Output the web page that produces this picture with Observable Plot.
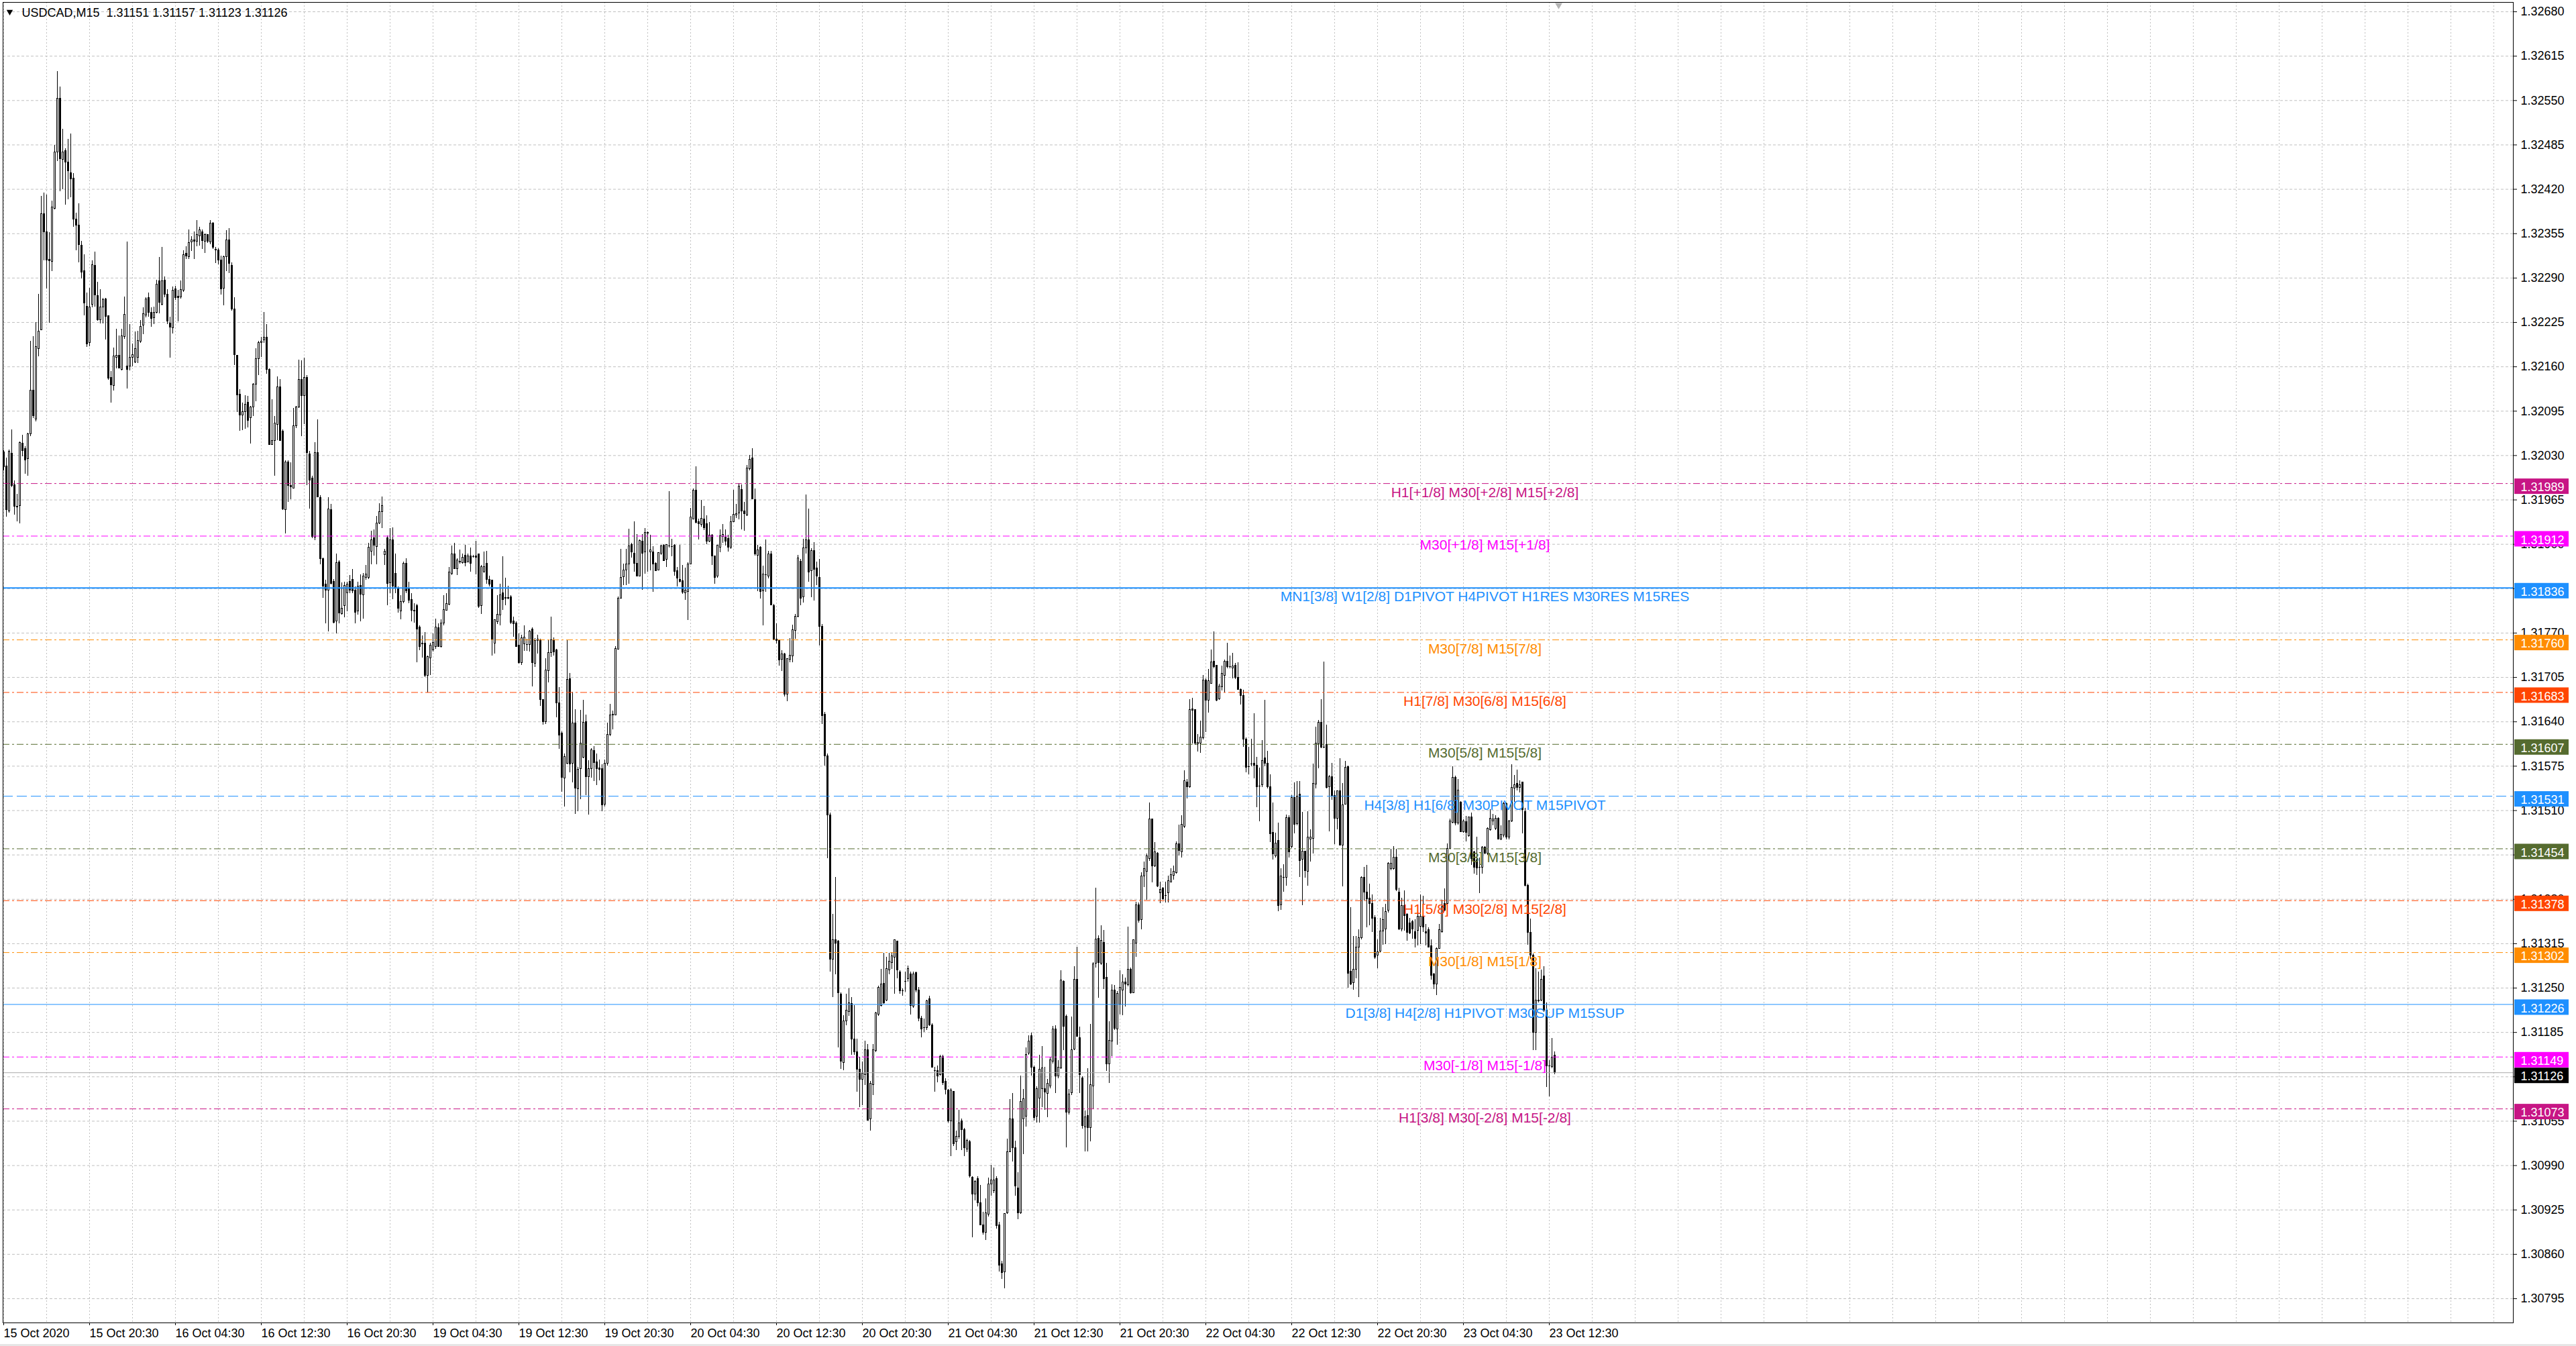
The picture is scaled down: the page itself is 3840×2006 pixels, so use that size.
<!DOCTYPE html>
<html>
<head>
<meta charset="utf-8">
<script src="https://cdn.jsdelivr.net/npm/d3@7"></script>
<script src="https://cdn.jsdelivr.net/npm/@observablehq/plot@0.6"></script>
<style>
html,body{margin:0;padding:0;background:#fff;}
#chart{width:3840px;height:2003px;overflow:hidden;}
#chrome{width:3840px;height:3px;background:#e6e6e6;}
</style>
</head>
<body>
<div id="chart"></div>
<div id="chrome"></div>
<script>
// ---------------- DATA (USDCAD M15, values in pips above 1.30000) ----------------
const symbol = "USDCAD,M15";
const basePrice = 1.3;
const pip = 0.0001;

const openPips = [
203.5,201.4,194.8,203.3,198.7,195.5,195.6,204.8,204.0,202.5,
206.1,212.5,208.3,218.6,221.4,238.4,235.7,231.7,231.4,239.2,
247.4,255.3,246.3,247.6,245.9,244.4,243.6,237.6,236.7,233.8,
230.0,224.8,219.5,225.1,230.8,226.4,222.8,224.7,225.9,223.4,
214.4,213.2,217.3,217.6,215.6,220.4,216.1,216.1,217.3,216.7,
217.3,219.7,222.1,223.5,226.1,223.9,223.1,223.9,228.5,225.1,
228.6,226.6,222.4,221.7,227.4,226.3,226.2,227.2,232.6,232.1,
234.2,234.5,234.3,235.1,235.7,234.3,235.3,234.2,237.0,233.2,
233.1,231.6,227.5,232.1,234.5,230.8,224.4,217.6,211.9,208.9,
209.4,210.8,208.5,210.1,213.4,217.1,219.5,219.9,220.3,215.6,
204.6,205.2,207.5,213.0,206.5,195.0,202.0,198.6,198.2,207.3,
210.1,214.1,211.7,214.4,203.2,199.6,191.0,203.4,196.8,187.9,
184.1,183.2,195.0,184.5,178.7,187.4,179.8,181.0,182.8,184.5,
184.8,183.2,180.2,183.9,182.5,185.1,185.1,188.9,190.9,189.6,
193.1,194.7,188.4,190.9,184.3,190.6,185.7,183.4,180.2,181.6,
187.2,183.4,181.9,180.3,181.0,177.8,175.5,175.5,170.8,173.3,
174.5,175.0,177.7,175.0,178.4,180.3,181.2,185.7,188.5,186.4,
187.5,187.3,188.3,187.4,188.2,188.2,188.2,188.5,181.0,186.0,
187.2,184.8,184.7,175.5,178.6,179.6,182.8,182.1,182.1,182.3,
178.7,178.4,175.2,172.6,175.4,175.3,175.3,177.5,172.5,175.9,
176.0,167.2,164.0,171.4,174.1,176.0,174.5,166.7,162.3,155.7,
157.9,170.3,157.9,163.8,154.1,157.1,158.8,164.0,155.9,157.1,
159.7,158.1,157.2,157.1,151.9,157.9,162.1,165.0,165.0,174.6,
182.1,185.2,186.2,187.1,189.9,188.6,187.2,185.3,190.4,188.8,
191.6,188.8,188.8,187.2,186.2,188.6,189.8,187.8,189.8,189.7,
189.8,186.1,184.8,184.6,182.8,183.0,187.1,193.7,197.9,193.3,
192.9,193.7,193.0,190.4,191.3,188.2,185.3,189.5,191.1,191.0,
190.8,189.5,193.3,194.2,194.5,198.0,194.8,194.2,201.0,202.6,
196.5,188.3,189.5,183.1,185.5,185.3,188.5,181.0,176.1,175.9,
173.1,173.9,168.0,173.1,173.6,177.3,179.4,187.5,182.3,189.4,
190.6,186.1,189.0,186.5,185.1,177.9,165.1,159.0,150.3,129.2,
132.0,131.8,124.1,114.0,120.1,121.5,122.7,117.5,115.6,113.1,
111.6,112.3,115.9,105.8,110.8,115.8,121.1,122.4,125.6,123.2,
127.6,128.7,129.5,131.8,127.3,124.6,126.0,126.3,127.0,122.3,
127.2,124.7,120.5,119.2,119.2,123.4,119.5,112.9,112.9,112.3,
114.9,111.3,110.0,105.5,109.8,102.4,103.2,105.5,104.2,101.4,
102.4,97.2,94.8,97.0,93.5,90.3,89.2,91.8,96.3,95.3,
97.0,90.3,84.6,83.4,92.0,101.0,105.8,101.6,95.7,92.0,
105.8,106.2,115.4,118.0,113.4,106.2,108.8,110.2,110.2,109.5,
110.6,114.2,119.0,112.1,113.3,125.9,120.8,106.8,109.6,116.0,
126.2,117.7,111.8,104.6,106.3,104.5,110.6,128.6,132.2,128.6,
131.6,126.5,113.8,117.2,124.7,119.0,122.6,124.7,125.8,125.4,
127.7,124.3,131.5,137.1,135.0,141.4,142.1,143.9,149.7,142.8,
144.7,138.9,139.6,138.6,138.9,140.5,141.5,141.9,146.1,144.9,
148.6,155.1,154.4,165.8,165.7,160.7,160.8,161.6,170.1,167.1,
169.6,172.8,172.2,167.3,169.1,170.8,172.8,172.1,171.8,172.2,
170.5,168.7,167.8,161.4,157.4,157.8,157.9,157.6,154.6,154.7,
158.7,157.9,154.4,147.8,144.3,146.6,137.1,141.2,141.2,149.9,
145.7,152.9,149.0,153.4,143.8,145.0,142.1,146.8,146.9,154.8,
160.7,163.9,160.3,160.6,154.4,155.9,153.2,149.8,153.8,145.9,
151.9,157.4,127.4,125.7,127.7,130.9,132.3,141.2,139.0,138.1,
137.3,135.3,129.8,130.4,133.3,133.6,136.4,142.4,142.4,144.1,
139.0,133.6,137.0,135.8,134.5,134.7,133.2,133.4,134.0,135.5,
133.2,133.5,131.1,127.0,125.5,130.8,133.2,137.3,137.3,145.4,
149.2,155.8,149.1,152.2,147.9,149.3,147.3,150.0,144.9,143.7,
142.7,142.6,145.6,144.7,148.1,149.4,148.3,149.8,146.8,147.4,
152.0,147.1,149.4,154.2,154.9,154.3,155.1,150.8,140.0,133.1,
129.8,118.5,123.2,123.2,126.7,121.7,113.6,113.5,115.1
];

const highPips = [
203.7,202.6,203.8,206.8,199.3,197.3,205.0,206.0,204.3,206.3,
219.7,220.4,222.5,226.6,241.0,241.5,241.2,235.7,240.3,248.4,
259.3,257.0,250.8,248.0,249.3,250.1,244.3,238.5,239.9,234.4,
232.4,226.8,227.5,231.5,232.8,228.4,227.3,226.0,226.0,223.5,
215.3,218.8,221.5,220.5,221.5,226.2,234.3,222.2,219.4,221.1,
221.2,222.8,224.7,226.1,226.8,224.7,224.8,228.7,232.0,233.5,
229.2,227.3,223.3,227.7,227.8,227.2,228.6,233.0,233.6,236.1,
235.1,235.8,237.4,236.5,236.1,235.5,235.4,237.4,237.1,233.5,
233.3,232.2,232.2,236.0,236.3,231.2,226.1,217.7,212.7,210.7,
211.8,211.7,210.2,213.6,218.7,219.7,220.3,224.0,222.2,215.7,
211.2,208.7,214.5,214.1,206.8,202.3,202.3,202.0,209.9,210.2,
217.0,216.9,217.3,214.7,203.6,200.0,204.9,208.2,197.1,188.0,
184.8,196.8,195.9,184.9,188.6,187.6,184.4,184.5,184.5,185.4,
186.3,183.8,184.5,185.5,185.7,186.9,190.2,191.9,192.1,194.1,
196.0,196.9,189.3,191.2,192.3,192.4,188.6,183.8,182.5,187.4,
187.9,184.5,182.8,181.3,181.2,178.1,176.6,177.1,173.7,175.5,
176.9,179.1,178.4,179.0,182.5,182.8,186.6,189.8,190.2,187.9,
189.2,188.6,189.9,188.6,189.5,188.4,190.5,188.6,186.9,188.9,
189.0,185.3,184.8,179.0,182.5,184.2,188.2,185.1,183.9,182.5,
179.4,178.7,176.9,176.7,178.1,176.1,177.4,177.8,176.2,176.7,
176.1,167.3,173.3,175.9,179.4,176.3,174.6,169.0,162.5,159.3,
175.9,171.1,168.3,165.8,157.3,165.7,167.2,165.0,158.3,160.1,
160.4,159.3,158.4,157.7,158.4,163.8,166.6,165.6,175.0,182.3,
189.3,187.1,189.3,192.2,190.2,193.3,191.4,190.7,191.4,192.3,
191.8,191.3,189.7,187.3,188.8,189.9,190.0,190.0,197.7,190.8,
190.0,186.6,189.9,186.9,186.5,187.3,195.3,198.1,201.4,193.7,
196.5,195.6,194.2,193.2,191.4,188.3,189.8,192.1,192.9,192.1,
191.3,194.1,197.9,195.9,198.9,198.7,196.2,201.6,203.0,204.0,
198.1,189.9,189.7,186.8,190.7,189.0,189.0,181.2,178.4,176.0,
174.4,174.0,173.3,176.2,178.2,179.7,188.4,187.8,190.8,197.2,
195.2,189.4,190.3,187.4,187.8,178.3,165.4,159.3,150.7,135.8,
141.2,132.0,124.3,121.0,124.1,124.9,123.6,122.4,117.5,114.9,
114.2,117.2,116.7,111.3,116.7,121.5,125.3,127.8,130.1,129.5,
130.1,130.2,132.1,131.9,127.6,124.9,127.4,128.2,127.4,127.4,
127.4,125.1,120.9,120.5,123.2,123.8,119.8,113.4,113.6,115.2,
115.2,111.7,110.2,110.3,109.8,104.1,107.1,105.8,104.5,102.9,
102.7,97.4,96.8,97.4,96.1,92.2,94.1,97.2,99.1,98.7,
97.4,90.7,85.0,92.0,102.9,108.7,109.6,102.6,98.0,112.1,
110.2,116.3,118.0,118.4,113.6,110.6,115.2,116.5,113.4,111.6,
114.9,119.4,119.5,114.4,127.6,126.1,121.1,110.2,120.8,128.1,
131.0,119.3,112.0,107.0,113.2,119.7,128.7,139.6,132.7,134.1,
133.5,128.6,120.1,125.5,125.4,124.5,127.6,127.0,126.5,133.9,
128.0,132.1,137.6,137.5,141.9,143.5,144.7,152.1,149.8,146.3,
144.9,140.5,139.7,140.5,141.4,142.5,142.9,146.4,148.9,150.3,
156.8,155.6,167.3,167.5,165.8,162.2,164.1,170.8,170.3,171.7,
174.5,177.2,172.3,169.5,172.2,173.1,175.5,173.7,174.0,172.6,
172.7,168.8,168.6,161.7,160.3,161.5,165.2,158.8,157.2,161.3,
167.2,159.7,156.3,152.1,147.7,149.2,142.5,143.1,150.4,150.3,
153.2,155.1,155.3,155.3,150.8,145.1,150.9,148.2,157.8,163.2,
164.2,167.3,172.8,163.5,156.2,157.9,153.9,153.9,158.6,155.0,
158.2,157.5,136.8,132.6,132.6,133.6,141.3,142.7,143.0,140.2,
138.7,135.6,132.1,135.2,136.8,137.3,143.4,145.3,145.7,145.3,
139.6,138.2,139.3,135.9,135.2,134.9,135.0,136.8,138.7,138.5,
134.3,133.8,132.1,127.2,130.9,134.3,137.9,139.5,146.1,149.8,
157.4,156.1,155.6,152.3,149.7,150.2,150.1,150.7,145.1,147.1,
144.1,145.7,145.7,148.5,151.1,150.5,150.3,150.0,148.8,152.2,
152.1,149.6,157.7,156.2,156.9,155.4,155.2,151.3,140.2,135.1,
130.0,127.9,127.4,127.7,128.1,122.8,114.4,117.6,115.7
];

const lowPips = [
200.8,194.0,194.6,198.3,194.3,193.3,193.0,202.8,200.3,200.0,
205.8,208.4,208.0,217.5,221.3,231.5,227.4,222.4,230.0,239.0,
246.1,241.7,242.0,239.7,240.5,240.8,236.5,233.0,231.2,228.9,
223.5,218.9,219.0,224.7,224.8,222.7,222.3,222.3,219.9,214.0,
210.7,212.5,215.7,215.7,215.4,220.0,212.8,215.4,216.0,216.5,
216.5,219.5,220.7,223.2,223.3,221.8,222.2,223.8,223.8,225.0,
226.1,222.2,217.3,220.8,225.7,222.6,225.9,226.9,231.7,231.7,
232.9,231.7,233.6,233.7,233.2,232.6,234.1,233.9,233.2,231.1,
231.0,226.5,225.0,230.0,229.7,224.2,216.2,209.3,206.6,206.7,
206.9,207.1,204.7,208.7,210.9,214.7,217.4,219.5,214.9,204.5,
204.5,200.0,205.2,205.2,195.0,191.5,196.2,196.6,198.2,207.0,
209.9,205.8,207.6,198.6,195.2,190.9,190.6,196.8,187.0,182.1,
178.4,177.2,184.1,178.4,176.9,178.4,179.6,179.3,180.1,182.8,
182.8,178.4,179.6,178.7,179.1,184.8,184.9,187.0,188.3,187.0,
192.9,192.3,186.9,181.0,182.8,181.9,182.8,179.9,179.0,181.3,
182.8,181.3,178.7,178.5,172.7,174.4,173.4,170.5,168.2,170.8,
174.2,174.6,174.9,174.8,178.1,180.2,181.0,185.4,186.3,185.4,
187.1,187.1,186.7,187.3,185.9,188.0,185.5,180.6,179.7,185.7,
184.2,183.8,173.7,173.9,178.3,178.1,180.3,181.0,181.9,178.3,
176.4,174.9,172.5,172.3,174.3,174.3,174.2,169.1,172.0,173.9,
166.3,163.5,163.6,169.7,173.5,173.7,164.6,160.0,153.7,151.5,
157.7,156.6,155.1,150.5,150.9,152.6,158.6,153.2,150.4,155.8,
155.3,154.7,155.4,150.9,151.5,157.5,161.9,162.8,165.0,174.5,
182.0,184.0,184.0,184.2,188.0,185.9,185.3,185.3,183.3,185.6,
185.9,186.1,183.0,186.0,186.1,188.4,187.5,186.6,189.5,188.2,
185.3,183.8,184.4,182.7,181.8,178.9,187.0,193.6,193.0,190.7,
192.5,192.0,190.0,190.3,186.9,184.2,185.1,188.8,190.2,189.8,
188.9,189.3,193.2,193.8,193.6,192.1,191.9,194.1,200.8,196.6,
188.3,183.1,182.0,178.1,183.0,185.0,181.0,175.9,175.4,172.2,
171.4,167.7,167.0,172.7,172.7,176.1,179.3,181.0,181.4,188.6,
184.5,182.2,181.7,184.0,175.1,163.6,157.5,144.0,127.4,123.6,
127.0,116.3,113.1,112.9,119.5,120.9,115.2,115.2,109.8,107.5,
107.8,110.8,105.5,104.1,109.3,115.6,120.9,122.3,122.6,123.0,
127.0,127.8,124.1,126.4,124.1,123.8,124.4,125.9,121.1,122.1,
124.3,120.1,117.7,118.5,118.8,119.4,113.3,109.8,111.1,112.1,
110.8,109.4,105.2,100.3,101.8,101.2,102.9,101.2,100.3,100.9,
97.2,88.4,93.8,93.0,90.2,88.8,88.0,91.5,94.5,94.9,
89.7,83.4,82.3,81.0,91.9,100.9,99.5,94.5,91.1,91.9,
100.6,104.7,115.2,112.1,105.5,105.2,105.2,107.5,107.1,106.0,
110.3,113.9,109.6,111.7,113.1,115.9,101.6,106.4,109.3,115.9,
117.8,109.6,104.4,101.0,101.0,102.5,107.3,128.0,123.5,128.3,
124.8,112.8,111.0,115.0,118.8,116.6,121.1,121.0,122.3,125.2,
124.1,124.2,129.5,134.5,133.6,139.7,137.9,143.6,140.4,142.7,
139.7,137.4,137.9,137.5,137.5,140.4,140.8,141.7,144.4,144.1,
148.4,152.7,154.3,160.8,160.6,159.6,159.4,161.4,162.4,165.3,
169.5,171.8,167.0,167.2,168.5,168.2,171.8,171.8,170.3,170.2,
168.6,166.5,160.3,156.6,156.3,157.4,155.7,151.4,149.4,154.4,
157.4,154.2,146.3,143.8,144.1,136.2,136.4,139.1,139.9,144.1,
145.4,147.6,148.8,141.2,137.1,141.1,139.9,143.5,144.7,154.2,
157.1,160.1,160.1,154.2,147.9,152.5,146.0,148.2,145.8,139.8,
151.8,125.0,125.4,124.7,126.4,123.6,132.1,137.8,133.8,134.1,
133.2,129.2,127.9,130.2,131.3,131.4,136.0,142.2,142.3,139.2,
133.5,133.3,133.4,131.9,132.9,132.2,130.9,131.2,131.4,133.2,
131.2,130.9,126.2,124.8,123.9,130.7,133.1,136.2,137.0,145.3,
149.1,148.8,148.9,147.8,147.7,146.4,147.1,143.0,141.7,141.5,
138.9,141.7,144.6,144.5,148.0,148.8,148.1,146.7,146.6,147.0,
146.7,146.7,149.3,152.2,153.9,153.6,147.6,139.8,131.3,129.2,
115.9,115.9,122.8,123.0,121.5,110.5,109.1,113.2,112.3
];

const closePips = [
201.3,195.0,203.6,198.6,195.5,195.4,204.9,203.7,202.3,206.1,
212.5,208.8,218.9,221.2,238.4,235.7,231.6,231.5,239.4,247.4,
255.3,246.4,247.4,245.9,244.7,243.5,237.6,236.7,233.9,229.8,
225.3,219.3,224.7,230.9,226.5,222.8,224.7,225.8,223.3,214.3,
213.3,217.5,217.6,215.8,220.5,223.6,215.6,217.3,217.7,218.6,
219.8,221.9,223.7,225.9,223.9,223.0,223.9,228.1,225.4,228.5,
226.6,222.6,221.8,227.2,226.1,226.1,227.3,232.4,232.2,234.1,
234.5,234.3,235.3,236.0,234.4,235.3,234.3,237.0,233.5,233.1,
231.6,227.4,232.1,234.5,231.1,224.4,217.7,211.8,208.9,209.4,
210.5,208.1,210.1,213.4,217.1,219.5,219.7,220.3,215.6,204.6,
205.2,207.7,213.0,205.2,195.1,202.0,198.6,198.4,207.3,210.1,
214.1,211.7,214.4,203.4,199.4,191.1,203.4,196.9,187.9,183.8,
183.2,195.1,184.2,178.5,187.3,179.9,180.6,183.9,184.1,183.2,
183.1,180.0,183.8,182.6,185.3,185.6,189.5,190.6,189.8,193.1,
194.7,195.6,188.9,184.2,190.6,183.8,183.6,180.6,181.6,187.2,
183.1,181.8,180.3,180.2,177.5,175.0,175.4,170.8,173.5,175.2,
175.6,177.8,175.0,178.4,180.4,181.3,185.9,188.5,186.4,187.7,
187.4,188.1,187.3,188.2,187.2,188.2,188.1,180.9,186.7,186.7,
184.8,184.1,176.1,178.9,179.7,182.5,181.9,182.2,182.2,178.5,
178.3,175.0,172.6,176.3,176.4,175.3,177.2,172.6,175.9,176.1,
167.2,164.0,171.5,174.1,176.0,174.2,166.7,162.0,155.8,158.9,
170.2,157.8,163.8,154.2,157.0,160.8,163.9,155.9,157.1,159.8,
158.0,157.1,157.0,151.8,157.9,162.1,165.0,165.1,174.7,182.1,
185.1,186.2,187.1,189.7,188.8,187.2,185.3,190.5,188.6,191.7,
191.7,189.1,187.1,186.1,188.7,189.7,187.6,189.9,189.8,189.7,
186.0,185.0,184.5,182.9,183.2,187.1,193.9,197.9,193.2,193.0,
193.8,192.4,190.4,191.3,188.2,185.1,189.8,191.2,191.4,190.4,
189.5,193.3,194.3,194.4,198.5,194.8,194.4,201.1,202.4,196.6,
188.5,189.1,183.0,185.6,185.5,188.5,181.1,176.0,175.9,173.0,
173.9,168.0,173.2,173.7,177.4,179.4,188.0,182.1,189.4,190.6,
185.9,189.0,186.3,185.3,177.9,164.9,159.0,150.3,129.2,132.0,
131.5,124.3,114.2,120.1,121.7,122.8,117.5,115.6,113.1,111.6,
112.5,115.9,105.6,111.0,115.9,121.3,125.1,125.5,122.8,127.8,
128.9,129.7,132.0,127.6,124.6,124.6,126.0,127.8,122.4,127.0,
124.7,120.5,119.0,119.2,123.1,119.5,113.4,112.9,112.1,114.9,
111.1,110.1,105.5,110.0,102.2,103.2,105.2,104.2,101.6,102.6,
97.4,94.8,96.6,93.5,90.3,89.2,92.0,96.3,96.8,96.8,
90.2,84.4,83.3,91.9,101.0,105.8,101.6,96.0,92.0,108.3,
108.7,115.2,117.2,113.4,106.0,110.2,113.1,113.3,109.7,111.0,
114.4,119.0,112.1,113.4,126.1,119.4,106.8,109.4,115.9,126.2,
117.9,112.3,104.8,106.1,104.5,110.8,128.5,132.1,128.7,131.9,
126.3,113.8,117.3,124.7,119.1,124.2,125.1,125.8,125.5,127.7,
124.3,132.0,137.1,134.9,141.4,142.4,144.3,149.7,142.8,144.9,
139.9,139.4,138.0,138.6,140.7,141.6,142.1,146.1,145.1,148.9,
155.3,154.4,165.7,165.6,160.8,160.9,161.7,170.1,167.1,170.0,
172.7,172.0,167.1,169.2,171.0,172.8,172.0,172.1,172.1,170.5,
168.7,167.8,161.4,157.3,157.4,157.8,157.6,154.4,154.6,158.3,
157.9,154.4,147.6,144.6,146.2,137.0,141.4,141.2,149.9,144.9,
152.9,148.9,153.1,143.6,145.0,142.2,147.1,147.1,154.9,160.8,
163.9,160.2,160.3,154.3,155.9,153.2,149.8,153.8,145.9,151.8,
157.3,127.1,125.5,127.7,130.9,132.3,141.2,139.0,138.0,137.3,
135.2,129.5,130.3,133.3,135.0,136.2,143.2,143.2,144.1,139.4,
133.6,137.0,135.6,133.1,133.0,133.6,132.2,135.5,135.5,133.9,
133.0,130.9,126.8,125.5,130.8,133.5,136.8,136.4,145.4,149.4,
155.8,149.1,153.9,147.9,149.4,147.8,150.0,143.9,142.6,142.5,
142.7,145.6,144.7,148.3,149.8,149.7,149.8,146.8,147.5,152.0,
147.1,149.4,154.3,154.7,154.3,154.7,151.1,140.0,133.1,129.8,
118.5,123.2,123.1,126.2,121.7,113.6,113.6,114.8,112.6
];

// bottom time axis: bar index and label
const timeBars = [0,32,64,96,128,160,192,224,256,288,320,352,384,416,448,480,512,544,576];
const timeLabels = ["15 Oct 2020","15 Oct 20:30","16 Oct 04:30","16 Oct 12:30","16 Oct 20:30",
  "19 Oct 04:30","19 Oct 12:30","19 Oct 20:30","20 Oct 04:30","20 Oct 12:30","20 Oct 20:30",
  "21 Oct 04:30","21 Oct 12:30","21 Oct 20:30","22 Oct 04:30","22 Oct 12:30","22 Oct 20:30",
  "23 Oct 04:30","23 Oct 12:30"];

// right price axis ticks
const priceTicks = [1.32680,1.32615,1.32550,1.32485,1.32420,1.32355,1.32290,1.32225,1.32160,1.32095,
  1.32030,1.31965,1.31900,1.31835,1.31770,1.31705,1.31640,1.31575,1.31510,1.31445,
  1.31380,1.31315,1.31250,1.31185,1.31120,1.31055,1.30990,1.30925,1.30860,1.30795];

// Murrey / pivot levels
const levelPrice = [1.31989,1.31912,1.31836,1.31760,1.31683,1.31607,1.31531,1.31454,1.31378,1.31302,1.31226,1.31149,1.31073];
const levelName = [
  "H1[+1/8] M30[+2/8] M15[+2/8]",
  "M30[+1/8] M15[+1/8]",
  "MN1[3/8] W1[2/8] D1PIVOT H4PIVOT H1RES M30RES M15RES",
  "M30[7/8] M15[7/8]",
  "H1[7/8] M30[6/8] M15[6/8]",
  "M30[5/8] M15[5/8]",
  "H4[3/8] H1[6/8] M30PIVOT M15PIVOT",
  "M30[3/8] M15[3/8]",
  "H1[5/8] M30[2/8] M15[2/8]",
  "M30[1/8] M15[1/8]",
  "D1[3/8] H4[2/8] H1PIVOT M30SUP M15SUP",
  "M30[-1/8] M15[-1/8]",
  "H1[3/8] M30[-2/8] M15[-2/8]"
];
const levelColor = ["#C71585","#FF00FF","#1E90FF","#FF8C00","#FF4500","#556B2F","#1E90FF","#556B2F","#FF4500","#FF8C00","#1E90FF","#FF00FF","#C71585"];
const levelStyle = ["dashdot","dashdot","solid2","dashdot","dashdot","dashdot","dash","dashdot","dashdot","dashdot","solid","dashdot","dashdot"];

// ---------------- LAYOUT ----------------
const W = 3840, H = 2003;
const mL = 4, mR = 94, mT = 3, mB = 32;
const barPx = 4, bar0Px = 5;           // pixel spacing of bars, pixel of bar 0
const px2bar = px => (px - bar0Px) / barPx;
const xDomain = [px2bar(mL), px2bar(W - mR)];
const yDomain = [1.307596, 1.326938];
const labelBar = 552;                  // bar where level names are centred
const gridBars = d3.range(0, Math.floor(xDomain[1]) + 1, 16);

// ---------------- BUILD ----------------
const toPrice = v => basePrice + v * pip;
const bars = closePips.map((c, i) => ({
  i, o: toPrice(openPips[i]), h: toPrice(highPips[i]), l: toPrice(lowPips[i]), c: toPrice(c)
}));
const last = bars[bars.length - 1];
const fmt = p => p.toFixed(5);
const headerText = `${symbol}  ${fmt(last.o)} ${fmt(last.h)} ${fmt(last.l)} ${fmt(last.c)}`;

const levels = levelPrice.map((p, k) => ({price: p, name: levelName[k], col: levelColor[k], style: levelStyle[k]}));
const tags = levels.map(d => ({price: d.price, col: d.col})).concat([{price: last.c, col: "#000000"}]);

const chart = Plot.plot({
  width: W, height: H,
  marginLeft: mL, marginRight: mR, marginTop: mT, marginBottom: mB,
  x: {domain: xDomain},
  y: {domain: yDomain},
  style: {fontFamily: "'Liberation Sans', Arial, sans-serif", fontSize: "18px", background: "#ffffff", color: "#000000"},
  marks: [
    // grid
    Plot.ruleY(priceTicks, {stroke: "#c0c0c0", strokeDasharray: "4,3"}),
    Plot.ruleX(gridBars, {stroke: "#c0c0c0", strokeDasharray: "2,3"}),
    // candles
    Plot.ruleX(bars, {x: "i", y1: "l", y2: "h", stroke: "#000", shapeRendering: "crispEdges"}),
    Plot.rect(bars, {
      x1: d => d.i - 0.25, x2: d => d.i + 0.25, y1: "o", y2: "c",
      fill: d => (d.c >= d.o ? "#ffffff" : "#000000"), stroke: "#000", shapeRendering: "crispEdges"
    }),
    Plot.ruleY(bars.filter(d => d.o === d.c), {y: "o", x1: d => d.i - 0.375, x2: d => d.i + 0.375, stroke: "#000", shapeRendering: "crispEdges"}),
    // bid line
    Plot.ruleY([last.c], {stroke: "#a9a9a9"}),
    // levels
    Plot.ruleY(levels.filter(d => d.style === "dashdot"), {y: "price", stroke: d => d.col, strokeDasharray: "10,4,3,4"}),
    Plot.ruleY(levels.filter(d => d.style === "dash"), {y: "price", stroke: d => d.col, strokeDasharray: "15,6"}),
    Plot.ruleY(levels.filter(d => d.style === "solid"), {y: "price", stroke: d => d.col}),
    Plot.ruleY(levels.filter(d => d.style === "solid2"), {y: "price", stroke: d => d.col, strokeWidth: 2}),
    Plot.text(levels, {x: () => labelBar, y: "price", text: "name", fill: d => d.col, fontSize: 21,
      textAnchor: "middle", lineAnchor: "top", dy: 5}),
    // frame & axes
    Plot.frame({stroke: "#000"}),
    Plot.axisY({ticks: priceTicks, anchor: "right", tickSize: 5, tickPadding: 6, tickFormat: d => d.toFixed(5), label: null, fontSize: 18}),
    Plot.axisX({ticks: timeBars, anchor: "bottom", tickSize: 4, tickPadding: 5,
      tickFormat: d => timeLabels[timeBars.indexOf(d)], textAnchor: "start", label: null, fontSize: 18}),
    // price tags on the right axis
    Plot.rect(tags, {x1: () => px2bar(3748), x2: () => px2bar(3829), y1: "price", y2: "price",
      insetTop: -7, insetBottom: -16, fill: d => d.col}),
    Plot.text(tags, {x: () => px2bar(3757), y: "price", text: d => fmt(d.price), fill: "#ffffff",
      textAnchor: "start", dy: 6, fontSize: 18}),
    // header
    Plot.dot([0], {frameAnchor: "top-left", dx: 10, dy: 14, symbol: "triangle", rotate: 180, r: 3.5, fill: "#000"}),
    Plot.text([headerText], {frameAnchor: "top-left", text: d => d, dx: 28, dy: 9, lineAnchor: "top", textAnchor: "start", fontSize: 18, fill: "#000"}),
    // chart shift marker
    Plot.dot([last.i + 1.5], {x: d => d, frameAnchor: "top", dy: 4, symbol: "triangle", rotate: 180, r: 4, fill: "#b4b4b4"})
  ]
});
document.getElementById("chart").appendChild(chart);
</script>
</body>
</html>
